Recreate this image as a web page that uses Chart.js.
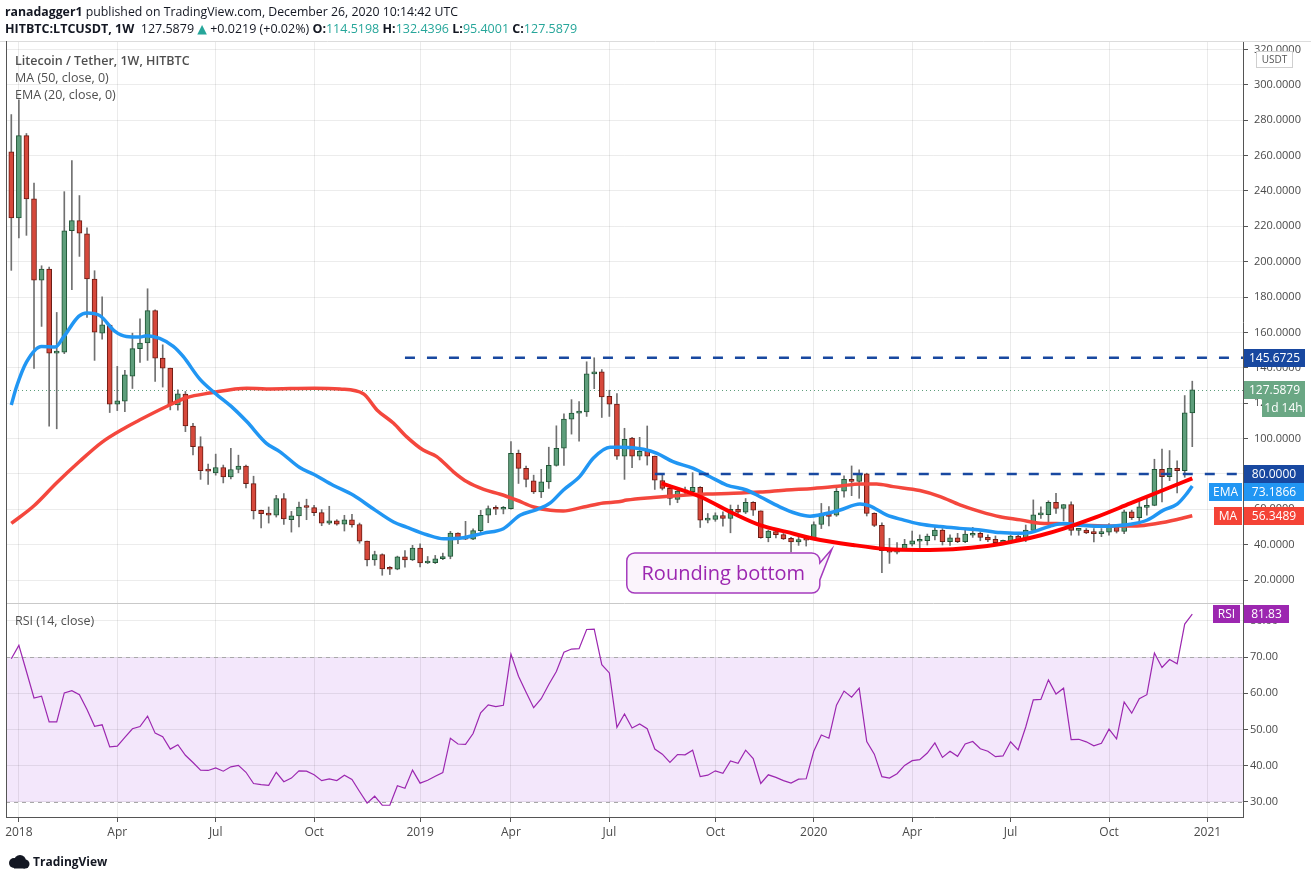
<!DOCTYPE html>
<html>
<head>
<meta charset="utf-8">
<title>Litecoin / Tether, 1W, HITBTC</title>
<script src="https://cdn.jsdelivr.net/npm/chart.js@4.4.1/dist/chart.umd.min.js"></script>
<style>
  html, body { margin:0; padding:0; background:#fff; }
  body { width:1311px; height:881px; position:relative; overflow:hidden; font-family:"Open Sans","DejaVu Sans",sans-serif; }
  #c { position:absolute; left:0; top:0; }
  .txt { position:absolute; white-space:nowrap; }
  .hdr { left:5px; font-size:12.3px; color:#131722; line-height:16px; }
  .hdr b { font-weight:700; }
  .teal { color:#26a69a; }
  .leg { left:15px; font-size:12.5px; color:#4f4f4f; line-height:17px; }
  .brand { left:33px; top:854px; font-size:12px; font-weight:700; color:#131722; line-height:16px; }
  #logo { position:absolute; left:8px; top:855px; }
</style>
</head>
<body>
<canvas id="c" width="1311" height="881"></canvas>
<div class="txt hdr" style="top:4px"><b>ranadagger1</b> published on TradingView.com, December 26, 2020 10:14:42 UTC</div>
<div class="txt hdr" style="top:21px;font-size:12.5px"><b>HITBTC:LTCUSDT, 1W</b>&nbsp; 127.5879 <span class="teal">▲</span> +0.0219 (+0.02%) <b>O:</b><span class="teal">114.5198</span> <b>H:</b><span class="teal">132.4396</span> <b>L:</b><span class="teal">95.4001</span> <b>C:</b><span class="teal">127.5879</span></div>
<div class="txt leg" style="top:52px;font-weight:600">Litecoin / Tether, 1W, HITBTC</div>
<div class="txt leg" style="top:69px">MA (50, close, 0)</div>
<div class="txt leg" style="top:86px">EMA (20, close, 0)</div>
<div class="txt leg" style="top:612px">RSI (14, close)</div>
<svg id="logo" width="22" height="14" viewBox="0 0 22 14"><circle cx="6" cy="8" r="5" fill="#131722"/><circle cx="12" cy="6" r="6" fill="#131722"/><circle cx="17" cy="9" r="4.5" fill="#131722"/><rect x="6" y="9" width="11" height="4.5" fill="#131722"/></svg>
<div class="txt brand">TradingView</div>
<script>
// ---- x axis (weekly candles, index 0 = week of 25 Dec 2017) ----
const tickIdx = [1, 14, 27, 40, 54, 66, 79, 93, 106, 119, 132, 145, 158];
const tickLbl = ['2018','Apr','Jul','Oct','2019','Apr','Jul','Oct','2020','Apr','Jul','Oct','2021'];
const priceTicks = [20,40,60,80,100,120,140,160,180,200,220,240,260,280,300,320];
const rsiTicks = [30,40,50,60,70,80];

// ---- weekly OHLC ----
const opens = [262.1,224.7,271.3,235.5,189.6,195.8,148.3,148.9,217.5,223.2,215.7,190.2,159.6,164.1,119.4,121.1,135.3,150.8,154.0,172.3,
145.5,139.8,119.0,125.1,107.1,95.4,81.9,80.6,83.6,78.3,82.5,84.4,74.5,59.4,57.5,56.7,66.0,54.1,56.3,61.3,
60.9,58.1,52.2,53.5,51.6,54.1,51.4,42.0,31.4,34.4,26.3,26.1,33.1,31.4,38.1,29.6,29.8,32.0,33.3,46.6,
43.9,43.1,47.9,56.6,60.4,60.0,60.3,91.7,83.1,76.1,69.8,75.5,84.8,94.5,111.0,114.4,115.0,136.6,137.7,123.9,
119.5,90.1,100.2,90.1,92.8,90.1,76.2,71.8,65.6,70.5,69.9,72.4,53.9,54.2,56.5,54.8,59.9,58.4,63.9,59.1,
44.0,47.4,45.7,43.5,41.6,42.9,43.5,51.4,57.7,56.6,70.2,77.0,75.7,80.0,57.7,50.9,36.6,35.7,37.0,40.2,
41.9,42.3,44.9,48.3,41.7,43.8,41.7,45.3,46.4,44.1,43.0,41.3,41.7,44.9,43.0,48.0,56.8,57.0,63.9,60.5,
62.7,48.1,48.3,46.9,46.2,47.0,50.0,47.5,58.6,55.3,61.0,62.2,82.6,78.4,83.2,81.9,114.5198];
const highs = [283.2,291.5,272.5,244.5,197.7,196.9,171.3,239.6,257.2,237.4,219.2,194.9,180.2,164.3,140.8,138.5,159.6,167.7,184.7,172.8,
153.0,139.8,127.5,126.6,108.6,101.0,85.5,91.2,85.0,94.4,90.6,85.0,78.7,59.6,61.3,67.9,68.9,58.8,64.1,65.7,
62.2,59.8,61.7,54.1,56.6,57.1,52.2,42.0,36.3,34.8,27.6,33.5,36.7,39.6,40.4,33.3,33.9,35.2,47.5,46.7,
53.2,49.0,59.4,61.9,62.0,61.6,98.3,93.5,84.4,79.3,82.6,95.1,107.2,114.0,122.0,120.9,143.4,145.6725,139.0,127.3,
125.4,105.8,100.7,100.7,107.1,90.1,79.4,73.7,72.2,72.5,80.7,72.8,57.6,58.0,58.6,62.4,62.4,66.1,64.3,59.1,
48.2,48.2,46.3,44.1,44.5,44.5,52.9,63.3,61.5,72.8,78.9,84.5,82.3,80.4,58.0,52.4,43.6,41.1,43.0,47.7,
45.5,46.0,50.6,49.1,45.5,46.4,48.3,49.8,47.3,45.5,44.9,42.6,45.3,45.3,51.1,65.3,61.4,64.8,69.0,62.7,
64.2,49.1,49.1,49.1,49.1,51.9,51.5,59.5,59.5,65.2,67.1,88.3,94.0,93.2,87.4,124.3,132.4396];
const lows = [195.1,213.4,214.9,139.6,163.4,107.0,105.5,148.0,184.2,203.0,168.5,144.2,156.2,114.7,115.8,115.2,128.3,143.0,144.2,132.3,
129.1,116.2,116.0,103.9,90.7,76.9,74.0,79.3,74.9,77.2,80.6,72.1,54.5,49.4,52.2,55.6,51.4,47.1,50.0,54.1,
56.4,50.7,51.4,51.0,47.7,49.9,40.8,28.0,28.3,22.7,23.1,25.8,27.2,31.0,27.4,29.3,29.3,31.5,32.0,40.5,
42.8,42.8,46.6,52.4,57.0,57.4,60.0,74.6,72.7,68.9,66.6,71.8,84.4,84.8,102.5,98.5,112.5,128.2,111.9,112.5,
88.2,76.9,83.5,87.9,85.0,71.2,70.9,62.4,63.7,68.6,69.3,49.7,52.3,53.2,50.4,46.7,57.6,57.6,56.5,43.6,
41.6,43.8,42.9,35.9,39.6,39.2,43.3,49.1,50.6,56.0,66.8,67.7,66.2,56.2,50.2,24.1,29.4,34.7,36.8,39.2,
37.7,39.8,42.6,39.8,39.6,41.1,41.1,44.1,42.2,41.7,39.8,40.8,40.8,41.7,41.7,47.4,54.8,51.9,57.6,53.4,
45.3,45.3,46.2,41.5,44.5,45.3,46.6,46.2,54.2,51.9,56.7,62.0,64.2,76.2,69.2,78.1,95.4001];
const closes = [224.7,271.3,235.5,189.6,195.8,148.3,148.9,217.5,223.2,216.2,190.2,160.2,164.3,119.4,121.3,136.0,150.8,154.0,172.3,145.5,
139.8,119.0,125.3,107.1,95.4,81.9,81.6,83.6,78.3,82.5,84.4,74.5,59.0,57.5,56.7,66.0,54.5,56.3,61.3,61.0,
58.1,52.2,53.5,51.6,54.1,51.1,42.0,31.4,34.4,26.3,26.1,33.1,31.4,38.1,29.6,30.3,32.0,33.3,46.6,43.9,
43.1,47.9,56.6,60.4,60.0,60.3,91.7,83.1,76.9,69.8,75.5,84.8,94.5,111.0,114.4,115.0,136.6,137.7,123.5,119.5,
90.1,99.6,90.1,92.8,90.1,76.5,71.8,66.1,70.3,69.9,72.4,53.9,54.6,56.5,54.8,59.9,58.4,63.9,59.5,44.0,
47.6,45.7,43.3,41.6,42.9,42.5,51.4,57.6,56.0,70.2,77.0,75.7,80.0,57.7,50.9,36.6,35.7,36.6,40.2,42.1,
42.6,44.9,48.3,41.7,43.8,41.7,46.0,46.4,44.1,42.6,41.1,42.3,44.9,42.3,48.3,56.8,57.2,63.9,60.5,62.7,
48.1,48.3,46.6,46.2,47.0,50.0,47.5,58.6,55.3,61.4,62.2,82.6,78.4,83.2,81.9,114.5198,127.5879];

// ---- RSI (14, close) per candle ----
const rsi = [69.5,73.2,66.0,58.7,59.2,52.1,52.1,60.1,60.7,59.6,55.5,50.9,51.3,45.2,45.4,47.8,50.2,50.8,53.7,49.0,
48.0,44.6,45.8,42.9,40.9,38.8,38.7,39.4,38.5,39.7,40.1,38.2,35.1,34.8,34.6,38.2,35.6,36.6,38.6,38.5,
37.5,35.9,36.4,35.9,37.4,36.2,32.9,29.7,31.6,29.1,29.1,34.5,33.8,38.8,35.2,36.0,37.1,38.1,47.6,46.0,
45.9,48.9,54.6,56.8,56.3,56.7,70.8,64.7,60.3,56.0,58.5,62.4,66.0,71.3,72.2,72.3,77.6,77.7,67.9,65.6,
50.6,54.3,50.4,51.5,50.2,44.6,43.2,40.9,43.1,43.0,44.3,37.0,37.4,38.6,37.9,41.3,40.7,44.3,42.0,35.1,
37.5,36.8,35.9,35.2,36.3,36.4,44.0,48.5,47.6,56.7,60.6,58.9,61.4,46.7,43.2,37.0,36.6,37.8,40.1,41.4,
41.7,43.5,46.3,42.3,44.0,42.6,46.0,46.7,44.7,44.0,42.5,42.7,46.6,44.4,50.7,58.2,58.3,63.7,59.8,61.4,
47.2,47.3,46.6,45.5,46.2,50.1,47.4,57.6,54.5,58.5,59.6,71.1,67.1,69.3,68.1,79.1,81.83];

// ---- EMA (20) ----
const emaIdx = [0,0.7,2,4,5.8,6.9,8.9,10,11.7,13.7,15.2,17,17.9,19.6,21.4,22.7,24.9,26.9,29.3,31.1,33.7,35.5,38.1,40,42.5,45.2,47.8,50.5,52.2,
54.9,57.1,59.7,62.4,65,67.2,69.4,71.2,72.9,75.1,76.9,79.1,80.8,83.5,85.3,87.4,90.1,92.3,94.5,97.1,98.9,101.5,103.7,105.5,
106.8,109.5,112.1,113.4,115.6,117.8,120,122.7,125.3,128,130.6,133.3,134.6,137.2,139,141.2,143.4,145.6,147.8,150,152.2,154,155.3,156];
const emaVal = [119,129.4,143.2,152.1,151.7,157.4,169.1,171,169.5,160.6,157.7,157.4,158.1,156.6,152.1,146.4,133.6,125.7,117.2,109.6,97.3,92.5,83.6,79.7,73.6,67.9,60.3,52.8,49.9,
45.6,43.3,43.9,46.5,49.0,56.6,59.8,63.6,70.8,78.6,89.0,95.1,95.1,93.9,91.6,86.9,83.1,78.4,73.7,70.9,67.1,61.4,57.6,56.1,
56.8,59.6,63.0,61.9,56.8,54.0,51.7,50.2,49.2,48.3,46.8,46.4,46.8,50.4,51.9,51.0,50.4,50.6,51.5,53.8,59.5,62.9,69.0,73.1866];

// ---- MA (50) ----
const maIdx = [0,3,6,9,12,15,17,20.5,23.2,26.2,31.1,33.7,40,43.4,46.5,48.3,50.5,52.2,54.4,56.2,58.4,60.2,62.4,64.6,66.8,69,71.2,72.9,75.6,78.2,80.2,
81.3,84.8,88.3,91.9,95.4,98.9,102.4,105.9,109.5,112.1,114.3,116.5,120,122.7,125.3,128,130.6,133.3,135.9,138.1,141.6,145.1,148.7,151.3,154,156];
const maVal = [52,62,75,87,98,106,110.6,118.1,123.2,125.7,128.5,128,128.5,128,125.3,116.2,108.6,101.1,93.5,89.8,81.2,75.5,71.2,68.5,65.1,61.3,59.4,59.0,61.3,63.6,64.2,
65.2,66.7,67.8,68.6,69.0,69.7,70.9,71.8,73.2,74.3,74.3,72.8,70.6,67.2,62.5,58.7,55.8,54.0,52.1,51.9,51.0,50.6,50.6,51.9,54.2,56.3489];

// ---- hand-drawn "rounding bottom" curve ----
const roundIdx = [85.9,91,95.4,98.9,102.4,105.9,111.2,115.6,120,124.4,128.9,133.3,136,139,143.4,147.8,152.2,156];
const roundVal = [74.6,67.1,57.6,51.0,47.2,43.5,39.8,37.5,37.0,37.4,39.2,42.6,45.3,49.1,55.7,63.3,70.9,77.5];

// ---- horizontal levels and last values ----
const levelVal = [145.6725, 80.0];
const levelFrom = [52, 85];
const lastPrice = 127.5879, lastEma = 73.1866, lastMa = 56.3489, lastRsi = 81.83;
const callout = { text:'Rounding bottom', x0:81.3, x1:106.8, top:35.3, bottom:12.6, tailTop:29.6, tailBottom:20.0, tipX:108.4, tipY:37.5 };

const FONT = '"Open Sans", "DejaVu Sans", sans-serif';
Chart.defaults.font.family = FONT;
const idx = closes.map((_, i) => i);
const isUp = i => i !== undefined && closes[i] >= opens[i];

function badge(ctx, x, yc, w, h, bg, txt) {
  ctx.fillStyle = bg;
  ctx.fillRect(x, Math.round(yc - h / 2), w, h);
  ctx.fillStyle = '#ffffff';
  ctx.font = '12px ' + FONT;
  ctx.textAlign = 'center';
  ctx.textBaseline = 'middle';
  ctx.fillText(txt, x + w / 2, yc + 0.5);
}

const overlay = {
  id: 'overlay',
  beforeDraw(chart) {
    const { ctx, chartArea: a, scales: { yR } } = chart;
    const t = yR.getPixelForValue(70), b = yR.getPixelForValue(30);
    ctx.save();
    ctx.fillStyle = '#f3e7fb';
    ctx.fillRect(a.left, t, a.right - a.left, b - t);
    ctx.restore();
  },
  beforeDatasetsDraw(chart) {
    const { ctx, chartArea: a, scales: { y, yR } } = chart;
    ctx.save();
    ctx.strokeStyle = '#a8a8a8'; ctx.lineWidth = 1; ctx.setLineDash([4, 4]);
    [70, 30].forEach(v => {
      const py = Math.round(yR.getPixelForValue(v)) + 0.5;
      ctx.beginPath(); ctx.moveTo(a.left, py); ctx.lineTo(a.right, py); ctx.stroke();
    });
    ctx.strokeStyle = '#5d9e7c'; ctx.setLineDash([1, 3]);
    const pp = Math.round(y.getPixelForValue(lastPrice)) + 0.5;
    ctx.beginPath(); ctx.moveTo(a.left, pp); ctx.lineTo(a.right, pp); ctx.stroke();
    ctx.setLineDash([]);
    ctx.strokeStyle = '#c9c9c9';
    const sp = Math.round(yR.top) + 0.5;
    ctx.beginPath(); ctx.moveTo(a.left, sp); ctx.lineTo(a.right, sp); ctx.stroke();
    ctx.restore();
  },
  afterDatasetsDraw(chart) {
    const { ctx, chartArea: a, scales: { x, y } } = chart;
    ctx.save();
    ctx.strokeStyle = '#1848a0'; ctx.lineWidth = 2.5; ctx.setLineDash([10, 12]);
    levelVal.forEach((v, k) => {
      const py = y.getPixelForValue(v);
      ctx.beginPath(); ctx.moveTo(x.getPixelForValue(levelFrom[k]), py); ctx.lineTo(a.right, py); ctx.stroke();
    });
    ctx.setLineDash([]);
    // callout
    const L = x.getPixelForValue(callout.x0), R = x.getPixelForValue(callout.x1);
    const T = y.getPixelForValue(callout.top), B = y.getPixelForValue(callout.bottom);
    const t1 = y.getPixelForValue(callout.tailTop), t2 = y.getPixelForValue(callout.tailBottom);
    const tx = x.getPixelForValue(callout.tipX), ty = y.getPixelForValue(callout.tipY);
    const r = 8;
    ctx.beginPath();
    ctx.moveTo(L + r, T);
    ctx.lineTo(R - r, T);
    ctx.arcTo(R, T, R, T + r, r);
    ctx.lineTo(R, t1);
    ctx.lineTo(tx, ty);
    ctx.lineTo(R, t2);
    ctx.lineTo(R, B - r);
    ctx.arcTo(R, B, R - r, B, r);
    ctx.lineTo(L + r, B);
    ctx.arcTo(L, B, L, B - r, r);
    ctx.lineTo(L, T + r);
    ctx.arcTo(L, T, L + r, T, r);
    ctx.closePath();
    ctx.fillStyle = '#fbf4fc';
    ctx.fill();
    ctx.strokeStyle = '#a53bbd'; ctx.lineWidth = 1.5;
    ctx.stroke();
    ctx.fillStyle = '#9c27b0';
    ctx.font = '20px ' + FONT;
    ctx.textAlign = 'center'; ctx.textBaseline = 'middle';
    ctx.fillText(callout.text, (L + R) / 2, (T + B) / 2 + 1);
    ctx.restore();
  },
  afterDraw(chart) {
    const { ctx, chartArea: a, scales: { y, yR } } = chart;
    ctx.save();
    // frame
    ctx.strokeStyle = '#dcdcdc'; ctx.lineWidth = 1;
    ctx.beginPath(); ctx.moveTo(0, a.top + 0.5); ctx.lineTo(1311, a.top + 0.5); ctx.stroke();
    ctx.strokeStyle = '#555';
    ctx.beginPath(); ctx.moveTo(a.left + 0.5, a.top); ctx.lineTo(a.left + 0.5, a.bottom); ctx.stroke();
    // badges
    const bx = a.right + 1, bw = 61, bh = 18;
    badge(ctx, bx, y.getPixelForValue(levelVal[0]), bw, bh, '#1848a0', levelVal[0].toFixed(4));
    const pY = y.getPixelForValue(lastPrice);
    badge(ctx, bx, pY, bw, bh, '#6aa784', lastPrice.toFixed(4));
    badge(ctx, bx + 18, pY + bh, bw - 18, bh, '#6aa784', '1d 14h');
    const sY = y.getPixelForValue(levelVal[1]);
    badge(ctx, bx, sY, bw - 1, bh, '#1848a0', levelVal[1].toFixed(4));
    const eY = Math.max(y.getPixelForValue(lastEma), sY + bh);
    badge(ctx, bx, eY, bw - 1, bh, '#2196f3', lastEma.toFixed(4));
    badge(ctx, a.right - 34, eY, 33, bh, '#2196f3', 'EMA');
    const mY = Math.max(y.getPixelForValue(lastMa), eY + bh);
    badge(ctx, bx, mY, bw - 1, bh, '#f44336', lastMa.toFixed(4));
    badge(ctx, a.right - 29, mY, 28, bh, '#f44336', 'MA');
    const rY = yR.getPixelForValue(lastRsi);
    badge(ctx, bx, rY, 45, bh, '#9c27b0', lastRsi.toFixed(2));
    badge(ctx, a.right - 30, rY, 27, bh, '#9c27b0', 'RSI');
    // USDT unit box
    ctx.fillStyle = '#fff'; ctx.fillRect(a.right + 13, a.top + 10, 36, 16);
    ctx.strokeStyle = '#cfcfcf'; ctx.strokeRect(a.right + 13.5, a.top + 10.5, 36, 16);
    ctx.fillStyle = '#555'; ctx.font = '10px ' + FONT; ctx.textAlign = 'center'; ctx.textBaseline = 'middle';
    ctx.fillText('USDT', a.right + 31.5, a.top + 19);
    ctx.restore();
  }
};

new Chart(document.getElementById('c'), {
  type: 'bar',
  data: {
    datasets: [
      { type:'line', label:'Rounding bottom', data: roundIdx.map((v, i) => ({ x:v, y:roundVal[i] })), yAxisID:'y',
        borderColor:'#ff0000', borderWidth:4, pointRadius:0, cubicInterpolationMode:'monotone', order:1 },
      { type:'line', label:'EMA (20)', data: emaIdx.map((v, i) => ({ x:v, y:emaVal[i] })), yAxisID:'y',
        borderColor:'#2196f3', borderWidth:3.5, pointRadius:0, cubicInterpolationMode:'monotone', order:2 },
      { type:'line', label:'MA (50)', data: maIdx.map((v, i) => ({ x:v, y:maVal[i] })), yAxisID:'y',
        borderColor:'#f4473d', borderWidth:3.5, pointRadius:0, cubicInterpolationMode:'monotone', order:3 },
      { label:'Body', data: idx.map(i => ({ x:i, y:[opens[i], closes[i]] })), yAxisID:'y',
        backgroundColor: c => isUp(c.dataIndex) ? '#5e9e7b' : '#d6483b',
        borderColor: c => isUp(c.dataIndex) ? '#1f5535' : '#6b1b13',
        borderWidth:1, borderSkipped:false, barThickness:5, minBarLength:2, grouped:false, order:4 },
      { label:'Wick', data: idx.map(i => ({ x:i, y:[lows[i], highs[i]] })), yAxisID:'y',
        backgroundColor:'#707070', barThickness:1, grouped:false, order:5 },
      { type:'line', label:'RSI', data: idx.map(i => ({ x:i, y:rsi[i] })), yAxisID:'yR',
        borderColor:'#9c27b0', borderWidth:1.2, pointRadius:0, tension:0, order:1 }
    ]
  },
  options: {
    responsive:false,
    animation:false,
    layout: { padding: { left:6, right:0, top:41, bottom:40 } },
    plugins: { legend: { display:false }, tooltip: { enabled:false } },
    scales: {
      x: {
        type:'linear', min:-0.7, max:162.7, offset:false,
        afterBuildTicks: s => { s.ticks = tickIdx.map(v => ({ value:v })); },
        afterFit: s => { s.height = 24; },
        ticks: { callback: (v, i) => tickLbl[i], color:'#4a4a4a', font:{ size:12 }, maxRotation:0, autoSkip:false, padding:3 },
        grid: { color:'rgba(0,0,0,0.08)', tickColor:'#555', tickLength:5, offset:false },
        border: { color:'#555' }
      },
      y: {
        type:'linear', position:'right', stack:'v', stackWeight:562, min:7.0, max:324.8, beginAtZero:false,
        afterBuildTicks: s => { s.ticks = priceTicks.map(v => ({ value:v })); },
        afterFit: s => { s.width = 68; },
        ticks: { callback: v => Number(v).toFixed(4), color:'#4a4a4a', font:{ size:11 }, padding:6 },
        grid: { color:'rgba(0,0,0,0.075)', tickColor:'#555', tickLength:5 },
        border: { color:'#555' }
      },
      yR: {
        type:'linear', position:'right', stack:'v', stackWeight:214, min:25.86, max:84.9, beginAtZero:false,
        afterBuildTicks: s => { s.ticks = rsiTicks.map(v => ({ value:v })); },
        afterFit: s => { s.width = 68; },
        ticks: { callback: v => Number(v).toFixed(2), color:'#4a4a4a', font:{ size:11 }, padding:2 },
        grid: { color:'rgba(0,0,0,0.075)', tickColor:'#555', tickLength:5 },
        border: { color:'#555' }
      }
    }
  },
  plugins: [overlay]
});
</script>
</body>
</html>
